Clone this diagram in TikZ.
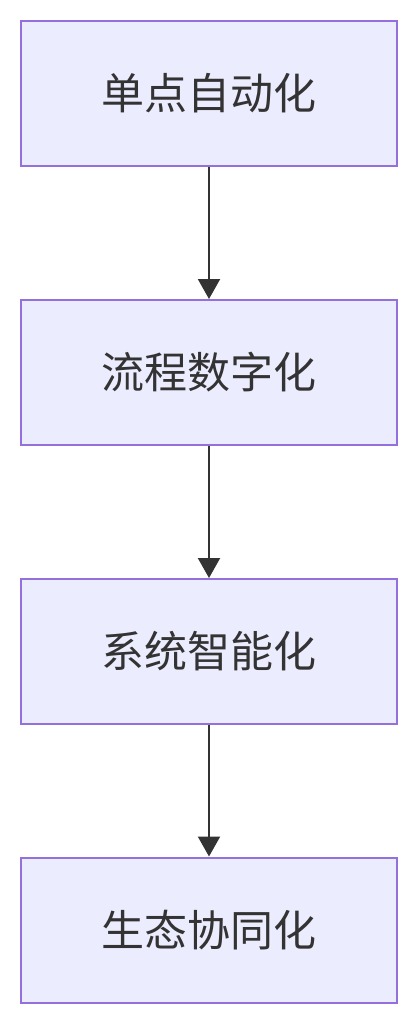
\documentclass[tikz,border=0pt]{standalone}
\usepackage{fontspec}
\newfontfamily\cjk{Noto Sans CJK SC}
\usetikzlibrary{arrows.meta}
\definecolor{boxfill}{HTML}{ECECFF}
\definecolor{boxline}{HTML}{9370DB}
\definecolor{ink}{HTML}{333333}
\begin{document}
\begin{tikzpicture}[x=1pt,y=-1pt,
  stage/.style={draw=boxline,fill=boxfill,line width=2pt,minimum width=376pt,minimum height=145pt,inner sep=0pt,text=ink,font=\cjk\fontsize{43}{50}\selectfont},
  flow/.style={draw=ink,line width=2.2pt,-{Triangle[length=20pt,width=22pt]}}]
\path[use as bounding box,fill=white] (0,0) rectangle (418,1024);
\node[stage] (a) at (209,93.5) {单点自动化};
\node[stage] (b) at (209,372.5) {流程数字化};
\node[stage] (c) at (209,651.5) {系统智能化};
\node[stage] (d) at (209,930) {生态协同化};
\draw[flow] (a) -- (b);
\draw[flow] (b) -- (c);
\draw[flow] (c) -- (d);
\end{tikzpicture}
\end{document}
